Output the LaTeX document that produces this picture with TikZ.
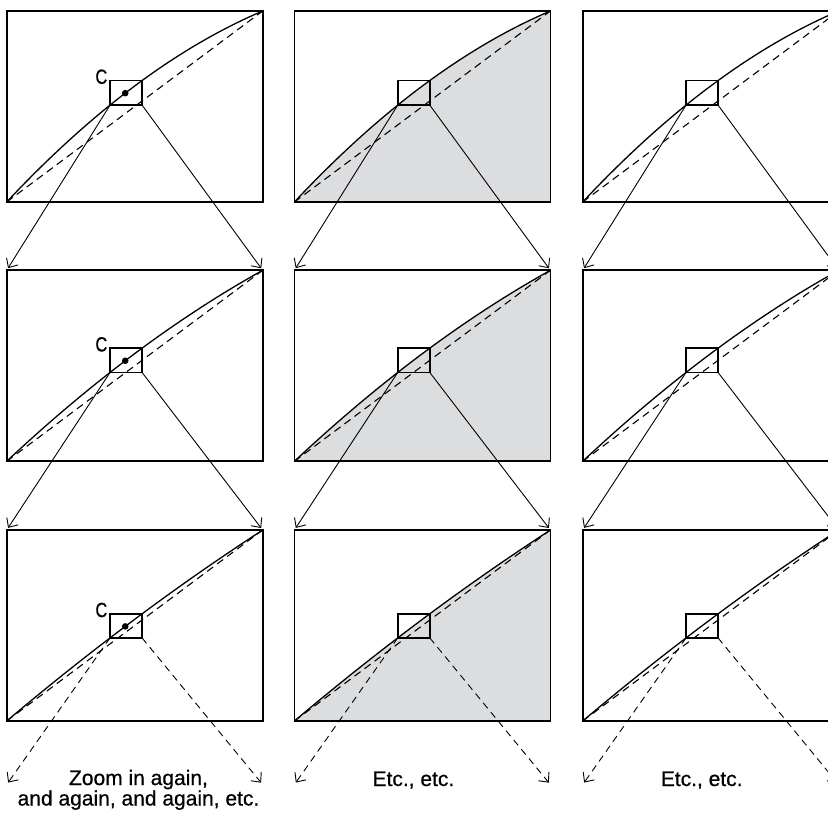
\documentclass[tikz,border=0pt]{standalone}
\usepackage{fontspec}
\setmainfont{Liberation Sans}[FakeBold=0.6]
\newfontfamily\condfont{Liberation Sans}[FakeStretch=0.8,FakeBold=0.8]
\usetikzlibrary{arrows.meta,calc}
\definecolor{areagray}{RGB}{220,221,223}
\begin{document}
\begin{tikzpicture}[x=1pt,y=-1pt,
  frame/.style={line width=1.8pt},
  curvest/.style={line width=1.3pt},
  chord/.style={line width=1.1pt,dash pattern=on 7.5pt off 5pt},
  sbox/.style={line width=1.6pt},
  zoomarrow/.style={line width=0.9pt,-{Straight Barb[angle=85:10pt]},shorten >=2.5pt},
  zoomdash/.style={zoomarrow,dash pattern=on 7pt off 5pt},
  caption/.style={font=\fontsize{21}{20.5}\selectfont,align=center,inner sep=0pt},
  clabel/.style={font=\condfont\fontsize{20.5}{20.5}\selectfont,inner sep=0pt}]
\useasboundingbox (0,0) rectangle (828,812);
\clip (0,0) rectangle (828,812);
\foreach \col/\cx/\shaded in {1/6.7/1,2/294.4/2,3/582.7/1}{
  \foreach \row/\ry/\a in {1/11/0.43,2/270.3/0.255,3/530/0.13}{
    \begin{scope}[shift={(\cx,\ry+191)},x=256pt,y=191pt]
      \pgfmathsetmacro\uA{0.4035}
      \pgfmathsetmacro\uB{0.529}
      \pgfmathsetmacro\uD{0.463}
      \pgfmathsetmacro\yA{\uA+\a*\uA*(1-\uA)}
      \pgfmathsetmacro\yB{\uB+\a*\uB*(1-\uB)}
      \pgfmathsetmacro\yD{\uD+\a*\uD*(1-\uD)}
      \pgfmathsetmacro\cyA{(1+\a)/3}
      \pgfmathsetmacro\cyB{(2+\a)/3}
      \coordinate (p\row\col-bl) at (0,0);
      \coordinate (p\row\col-tl) at (0,1);
      \coordinate (p\row\col-tr) at (1,1);
      \coordinate (p\row\col-br) at (1,0);
      \coordinate (p\row\col-sbl) at (\uA,\yA);
      \coordinate (p\row\col-sbr) at (\uB,\yA);
      \coordinate (p\row\col-stl) at (\uA,\yB);
      \coordinate (p\row\col-str) at (\uB,\yB);
      \coordinate (p\row\col-el) at (0,-0.333);
      \coordinate (p\row\col-er) at (1,-0.333);
      \ifnum\shaded=2
        \fill[areagray] (p\row\col-bl) .. controls (1/3,\cyA) and (2/3,\cyB) .. (p\row\col-tr) -- (p\row\col-br) -- cycle;
      \fi
      \draw[chord] (p\row\col-bl) -- (p\row\col-tr);
      \draw[curvest] (p\row\col-bl) .. controls (1/3,\cyA) and (2/3,\cyB) .. (p\row\col-tr);
      \draw[sbox] (p\row\col-sbl) rectangle (p\row\col-str);
      \draw[frame] (p\row\col-bl) rectangle (p\row\col-tr);
      \ifnum\col=1
        \fill (\uD,\yD) circle [radius=3.3pt];
        \node[clabel,anchor=base east] (c\row) at ([xshift=-2.5pt,yshift=-3.3pt]p\row\col-stl) {C};
      \fi
    \end{scope}
  }
}
\foreach \col in {1,2,3}{
  \foreach \row/\nxt in {1/2,2/3}{
    \draw[zoomarrow] (p\row\col-sbl) -- (p\nxt\col-tl);
    \draw[zoomarrow] (p\row\col-sbr) -- (p\nxt\col-tr);
  }
  \draw[zoomdash] (p3\col-sbl) -- (p3\col-el);
  \draw[zoomdash] (p3\col-sbr) -- (p3\col-er);
}
\node[caption,anchor=base] (cap1) at (138.5,805.5) {Zoom in again,\\and again, and again, etc.};
\node[caption,anchor=base] (cap2) at (413.4,786) {Etc., etc.};
\node[caption,anchor=base] (cap3) at (701.7,786) {Etc., etc.};
\end{tikzpicture}
\end{document}
